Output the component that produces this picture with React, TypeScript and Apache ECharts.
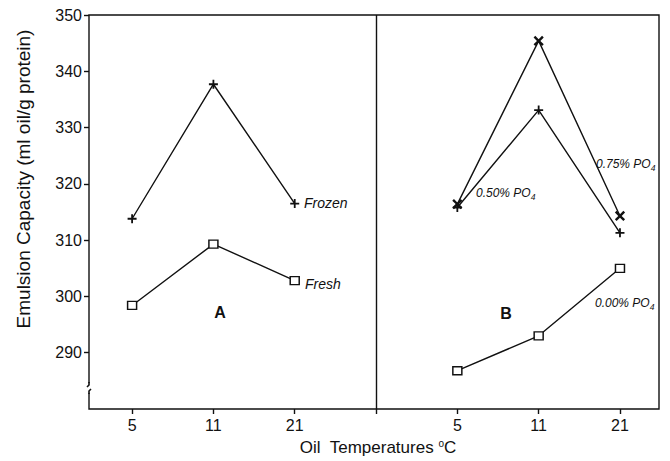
import React, { useEffect, useRef } from "react";
import * as echarts from "echarts";

// Oil temperature categories (°C), shared by both panels
const temps = ["5", "11", "21"];

// Panel A: fresh vs frozen
const frozenA = [313.8, 337.7, 316.5];
const freshA = [298.4, 309.3, 302.8];

// Panel B: phosphate levels
const po75 = [316.4, 345.4, 314.3];
const po50 = [315.8, 333.1, 311.3];
const po00 = [286.8, 293.0, 305.0];

const yTicks = [290, 300, 310, 320, 330, 340, 350];

// Layout of the plotting frame
const GL = 89;
const GT = 15;
const GW = 570;
const GH = 394;

const INK = "#111";
const FONT = "'Liberation Sans', Arial, Helvetica, sans-serif";

const PLUS = "path://M4,0H6V4H10V6H6V10H4V6H0V4H4Z";

// panel A uses slots 0..2, panel B slots 4..6, slot 3 is the divider
const slotA = (i: number) => i;
const slotB = (i: number) => i + 4;

const pairs = (vals: number[], slot: (i: number) => number) =>
  vals.map((v, i) => [slot(i), v]);

const lineBase = {
  type: "line" as const,
  lineStyle: { color: INK, width: 1.4 },
  z: 3,
};

const plusSeries = (name: string, vals: number[], slot: (i: number) => number) => ({
  ...lineBase,
  name,
  data: pairs(vals, slot),
  symbol: PLUS,
  symbolSize: 9,
  itemStyle: { color: INK },
});

const crossSeries = (name: string, vals: number[], slot: (i: number) => number) => ({
  ...lineBase,
  name,
  data: pairs(vals, slot),
  symbol: PLUS,
  symbolSize: 12,
  symbolRotate: 45,
  itemStyle: { color: INK },
});

const squareSeries = (name: string, vals: number[], slot: (i: number) => number) => ({
  ...lineBase,
  name,
  data: pairs(vals, slot),
  symbol: "rect",
  symbolSize: [9, 8],
  itemStyle: { color: "#fff", borderColor: INK, borderWidth: 1.4 },
});

const poLabel = (pct: string, x: number, y: number) => ({
  type: "text",
  x,
  y,
  z: 50,
  style: {
    text: `{a|${pct}% PO}{b|4}`,
    textVerticalAlign: "middle",
    rich: {
      a: { fontSize: 12, fontStyle: "italic", fontFamily: FONT, fill: INK },
      b: { fontSize: 8.5, fontStyle: "italic", fontFamily: FONT, fill: INK, padding: [8, 0, 0, 0] },
    },
  },
});

export default function App() {
  const ref = useRef<HTMLDivElement>(null);

  useEffect(() => {
    if (!ref.current) return;
    const chart = echarts.init(ref.current, undefined, { renderer: "svg" });

    const breakY = GT + GH - 24;

    chart.setOption({
      animation: false,
      backgroundColor: "#fff",
      grid: {
        left: GL,
        top: GT,
        width: GW,
        height: GH,
        show: true,
        borderColor: INK,
        borderWidth: 1.4,
        backgroundColor: "transparent",
        outerBoundsMode: "none",
      },
      xAxis: {
        type: "value",
        min: -0.53,
        max: 6.48,
        axisLine: { show: false, onZero: false },
        splitLine: { show: false },
        axisTick: {
          show: true,
          length: 5,
          lineStyle: { color: INK, width: 1.4 },
          customValues: [0, 1, 2, 3, 4, 5, 6],
        },
        axisLabel: {
          customValues: [0, 1, 2, 4, 5, 6],
          formatter: (v: number) => temps[Math.round(v) % 4] ?? "",
          color: INK,
          fontSize: 16,
          fontFamily: FONT,
          margin: 8,
        },
      },
      yAxis: {
        type: "value",
        min: 280,
        max: 350,
        axisLine: { show: false, onZero: false },
        splitLine: { show: false },
        axisTick: {
          show: true,
          length: 5,
          lineStyle: { color: INK, width: 1.4 },
          customValues: yTicks,
        },
        axisLabel: {
          customValues: yTicks,
          color: INK,
          fontSize: 16,
          fontFamily: FONT,
          margin: 7,
        },
      },
      series: [
        {
          ...plusSeries("Frozen", frozenA, slotA),
          markLine: {
            silent: true,
            symbol: "none",
            label: { show: false },
            lineStyle: { color: INK, width: 1.4, type: "solid" },
            data: [{ xAxis: 3 }],
          },
        },
        squareSeries("Fresh", freshA, slotA),
        crossSeries("0.75% PO4", po75, slotB),
        plusSeries("0.50% PO4", po50, slotB),
        squareSeries("0.00% PO4", po00, slotB),
      ],
      graphic: [
        // axis break on the value axis
        {
          type: "rect",
          z: 40,
          shape: { x: GL - 5, y: breakY - 2, width: 10, height: 10 },
          style: { fill: "#fff" },
        },
        {
          type: "polyline",
          z: 41,
          shape: { points: [[GL, breakY - 3], [GL, breakY], [GL - 2, breakY + 2]] },
          style: { stroke: INK, lineWidth: 1.6, fill: null },
        },
        {
          type: "polyline",
          z: 41,
          shape: { points: [[GL + 2, breakY + 4], [GL, breakY + 6], [GL, breakY + 9]] },
          style: { stroke: INK, lineWidth: 1.6, fill: null },
        },
        // axis titles
        {
          type: "text",
          x: 23,
          y: 179,
          rotation: Math.PI / 2,
          z: 50,
          style: {
            text: "Emulsion Capacity (ml oil/g protein)",
            fontSize: 19,
            fontFamily: FONT,
            fill: INK,
            textAlign: "center",
            textVerticalAlign: "middle",
          },
        },
        {
          type: "text",
          x: 378,
          y: 447,
          z: 50,
          style: {
            text: "{a|Oil  Temperatures }{b|o}{a|C}",
            textAlign: "center",
            textVerticalAlign: "middle",
            rich: {
              a: { fontSize: 17, fontFamily: FONT, fill: INK },
              b: { fontSize: 10, fontFamily: FONT, fill: INK, padding: [0, 0, 8, 0] },
            },
          },
        },
        // panel letters
        {
          type: "text",
          x: 220,
          y: 312,
          z: 50,
          style: {
            text: "A",
            fontSize: 16,
            fontWeight: "bold",
            fontFamily: FONT,
            fill: INK,
            textAlign: "center",
            textVerticalAlign: "middle",
          },
        },
        {
          type: "text",
          x: 506,
          y: 313,
          z: 50,
          style: {
            text: "B",
            fontSize: 16,
            fontWeight: "bold",
            fontFamily: FONT,
            fill: INK,
            textAlign: "center",
            textVerticalAlign: "middle",
          },
        },
        // curve annotations
        {
          type: "text",
          x: 304,
          y: 203,
          z: 50,
          style: {
            text: "Frozen",
            fontSize: 14,
            fontStyle: "italic",
            fontFamily: FONT,
            fill: INK,
            textVerticalAlign: "middle",
          },
        },
        {
          type: "text",
          x: 305,
          y: 284,
          z: 50,
          style: {
            text: "Fresh",
            fontSize: 14,
            fontStyle: "italic",
            fontFamily: FONT,
            fill: INK,
            textVerticalAlign: "middle",
          },
        },
        poLabel("0.50", 476, 193),
        poLabel("0.75", 596, 164),
        poLabel("0.00", 595, 303),
      ],
    });

    return () => chart.dispose();
  }, []);

  return (
    <div
      ref={ref}
      style={{ position: "fixed", left: 0, top: 0, width: 670, height: 461, background: "#fff" }}
    />
  );
}
